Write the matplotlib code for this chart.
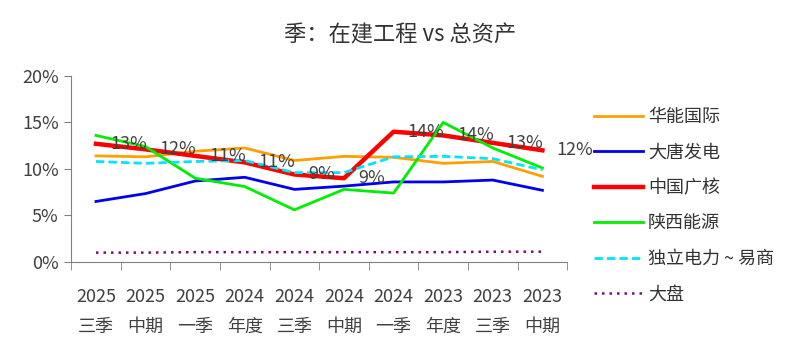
import matplotlib
matplotlib.use('Agg')
import matplotlib.pyplot as plt
import numpy as np

plt.rcParams['font.family'] = ['Noto Sans CJK SC', 'DejaVu Sans']

# Data (percent)
categories = ['2025\n三季', '2025\n中期', '2025\n一季', '2024\n年度', '2024\n三季',
              '2024\n中期', '2024\n一季', '2023\n年度', '2023\n三季', '2023\n中期']
huaneng = [11.4, 11.3, 11.9, 12.25, 10.9, 11.35, 11.25, 10.6, 10.8, 9.2]
datang = [6.5, 7.35, 8.7, 9.1, 7.8, 8.15, 8.6, 8.6, 8.8, 7.7]
cgn = [12.7, 12.1, 11.4, 10.7, 9.4, 9.0, 14.0, 13.6, 12.8, 12.0]
shaanxi = [13.6, 12.4, 9.0, 8.1, 5.6, 7.8, 7.4, 15.0, 12.25, 10.1]
independent = [10.8, 10.6, 10.8, 10.9, 9.6, 9.6, 11.3, 11.35, 11.1, 9.9]
market = [1.0, 1.0, 1.05, 1.05, 1.05, 1.05, 1.05, 1.05, 1.1, 1.1]

series = [
    ('华能国际', huaneng, dict(color='#FFA000', lw=2.0, ls='-')),
    ('大唐发电', datang, dict(color='#0000EE', lw=2.0, ls='-')),
    ('中国广核', cgn, dict(color='#FF0000', lw=3.2, ls='-')),
    ('陕西能源', shaanxi, dict(color='#00EE00', lw=2.0, ls='-')),
    ('独立电力 ~ 易商', independent, dict(color='#00E5FF', lw=2.0, ls=(0, (3, 1.5)))),
    ('大盘', market, dict(color='#7B0C7B', lw=1.8, ls=(0, (1, 2)))),
]

fig = plt.figure(figsize=(8, 3.53), dpi=100)
ax = fig.add_axes([0.089, 0.258, 0.620, 0.527])

x = np.arange(len(categories))
for name, vals, style in series:
    ax.plot(x, vals, label=name, **style)

# data labels on 中国广核
for xi, v in zip(x, cgn):
    ax.annotate(f'{v:.0f}%', (xi, v), xytext=(10, 0), textcoords='offset points',
                va='center', ha='left', fontsize=13, color='#404040')

ax.set_xlim(-0.5, 9.5)
ax.set_ylim(0, 20)
ax.set_yticks([0, 5, 10, 15, 20])
ax.set_yticklabels([f'{t}%' for t in [0, 5, 10, 15, 20]], fontsize=13, color='#404040')
ax.set_xticks(x)
ax.set_xticklabels(categories, fontsize=13, color='#404040', linespacing=1.8)
ax.set_xticks(np.arange(-0.5, 10, 1), minor=True)
ax.tick_params(axis='x', which='major', length=0, pad=19)
ax.tick_params(axis='x', which='minor', length=6, color='#808080')
ax.tick_params(axis='y', length=5, color='#808080', pad=4)

for s in ['top', 'right']:
    ax.spines[s].set_visible(False)
for s in ['left', 'bottom']:
    ax.spines[s].set_color('#808080')

fig.text(0.5, 0.90, '季：在建工程 vs 总资产', ha='center', va='center',
         fontsize=16, color='#333333')

fig.legend(loc='upper left', bbox_to_anchor=(0.722, 0.74), frameon=False,
           fontsize=13, handlelength=2.7, labelspacing=0.97, handletextpad=0.3,
           labelcolor='#333333')

fig.savefig('out.png', dpi=100)
